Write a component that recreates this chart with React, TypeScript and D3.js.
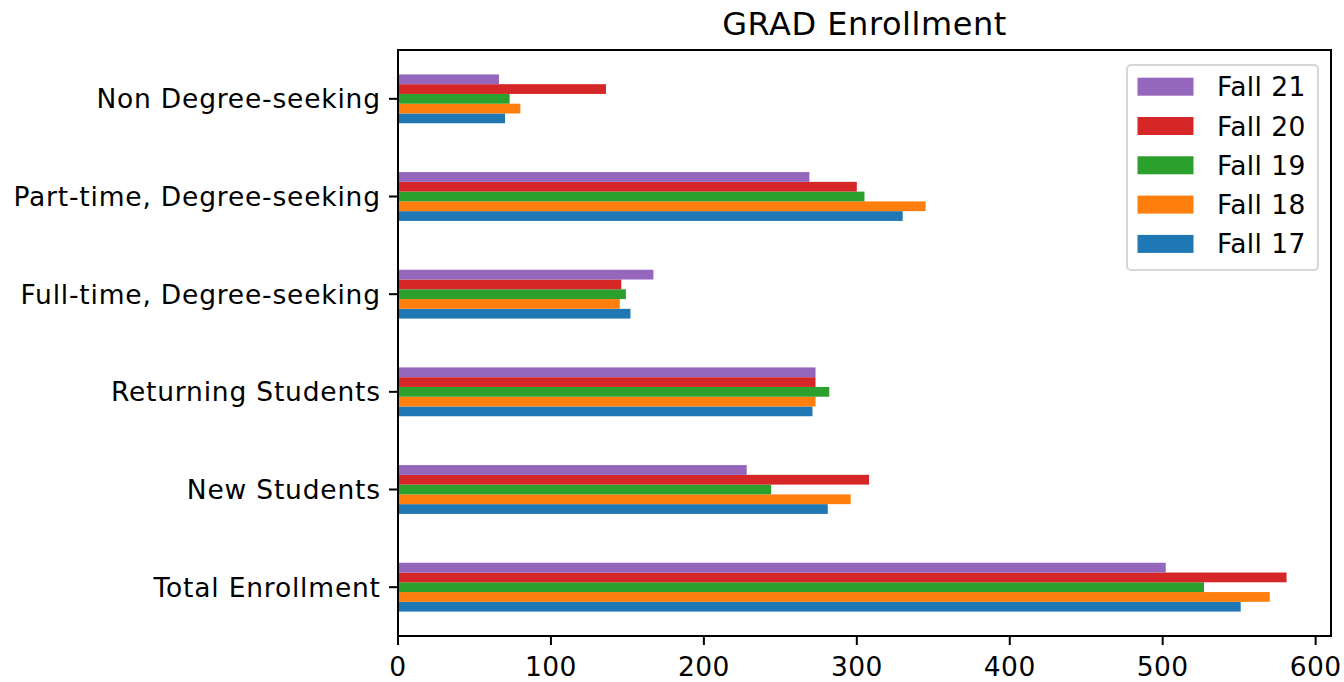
import React from "react";
import * as d3 from "d3";

const categories = [
  "Total Enrollment",
  "New Students",
  "Returning Students",
  "Full-time, Degree-seeking",
  "Part-time, Degree-seeking",
  "Non Degree-seeking",
];
const seriesNames = ["Fall 17", "Fall 18", "Fall 19", "Fall 20", "Fall 21"];
const fall17 = [551, 281, 271, 152, 330, 70];
const fall18 = [570, 296, 273, 145, 345, 80];
const fall19 = [527, 244, 282, 149, 305, 73];
const fall20 = [581, 308, 273, 146, 300, 136];
const fall21 = [502, 228, 273, 167, 269, 66];
const seriesValues = [fall17, fall18, fall19, fall20, fall21];
const colors = ["#1f77b4", "#ff7f0e", "#2ca02c", "#d62728", "#9467bd"];
const xTicks = [0, 100, 200, 300, 400, 500, 600];
const title = "GRAD Enrollment";

const W = 1344;
const H = 682;
const left = 398;
const right = 1331;
const top = 50;
const bottom = 636;
const FONT = "'DejaVu Sans', sans-serif";
const tickFs = 26.5;

export default function App() {
  const maxV = d3.max(seriesValues.flat()) as number;
  const x = d3.scaleLinear().domain([0, maxV * 1.05]).range([left, right]);
  const y = d3.scaleLinear().domain([-0.5, categories.length - 0.5]).range([bottom, top]);
  const n = seriesValues.length;
  const bw = 0.5 / n;
  const barH = Math.abs(y(bw) - y(0));

  const legendRows = seriesNames.map((s, i) => ({ name: s, color: colors[i] })).reverse();

  return (
    <svg
      width={W}
      height={H}
      style={{ position: "absolute", left: 0, top: 0, background: "#fff" }}
      fontFamily={FONT}
    >
      <rect x={0} y={0} width={W} height={H} fill="#fff" />
      {seriesValues.map((vals, si) =>
        vals.map((v, ci) => {
          const center = ci + (si - (n - 1) / 2) * bw;
          return (
            <rect
              key={`${si}-${ci}`}
              x={x(0)}
              y={y(center + bw / 2)}
              width={x(v) - x(0)}
              height={barH}
              fill={colors[si]}
            />
          );
        })
      )}
      <rect
        x={left}
        y={top}
        width={right - left}
        height={bottom - top}
        fill="none"
        stroke="#000"
        strokeWidth={2}
      />
      {xTicks.map((t) => (
        <g key={t}>
          <line x1={x(t)} x2={x(t)} y1={bottom} y2={bottom + 9} stroke="#000" strokeWidth={2} />
          <text x={x(t)} y={676} textAnchor="middle" fontSize={tickFs} fill="#000" letterSpacing={0.4}>
            {t}
          </text>
        </g>
      ))}
      {categories.map((c, i) => (
        <g key={c}>
          <line x1={left - 9} x2={left} y1={y(i)} y2={y(i)} stroke="#000" strokeWidth={2} />
          <text
            x={380.8}
            y={y(i) + 0.36 * tickFs}
            textAnchor="end"
            fontSize={tickFs}
            fill="#000"
            letterSpacing={0.8}
          >
            {c}
          </text>
        </g>
      ))}
      <text
        x={(left + right) / 2}
        y={35}
        textAnchor="middle"
        fontSize={32}
        fill="#000"
        letterSpacing={0.55}
      >
        {title}
      </text>
      <rect
        x={1127}
        y={65}
        width={191}
        height={205}
        rx={4}
        fill="#fff"
        fillOpacity={0.8}
        stroke="#d6d6d6"
        strokeWidth={2}
      />
      {legendRows.map((r, i) => {
        const cy = 86.7 + i * 39.3;
        return (
          <g key={r.name}>
            <rect x={1137.5} y={cy - 9} width={56} height={18} fill={r.color} />
            <text x={1217} y={cy + 0.36 * tickFs} fontSize={tickFs} fill="#000" letterSpacing={0.4}>
              {r.name}
            </text>
          </g>
        );
      })}
    </svg>
  );
}
